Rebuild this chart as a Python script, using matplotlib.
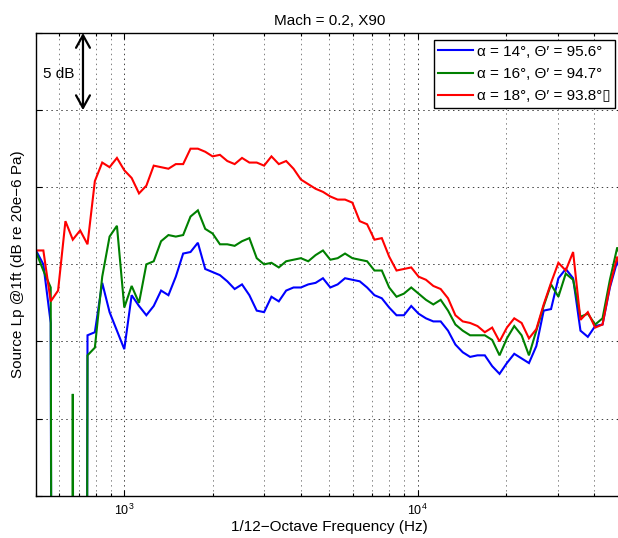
import matplotlib
matplotlib.use("Agg")
import matplotlib.pyplot as plt
from matplotlib.ticker import FixedLocator, LogLocator, NullFormatter

plt.rcParams['font.family'] = ['Liberation Sans', 'DejaVu Sans']
plt.rcParams['mathtext.fontset'] = 'custom'
plt.rcParams['mathtext.rm'] = 'Liberation Sans'
plt.rcParams['mathtext.it'] = 'Liberation Sans:italic'
plt.rcParams['mathtext.bf'] = 'Liberation Sans:bold'

# 1/12-octave band centre frequencies (Hz)
freq_hz = [500.0, 529.7, 561.2, 594.6, 630.0, 667.4, 707.1, 749.2, 793.7, 840.9,
           890.9, 943.9, 1000.0, 1059.5, 1122.5, 1189.2, 1259.9, 1334.8, 1414.2, 1498.3,
           1587.4, 1681.8, 1781.8, 1887.7, 2000.0, 2118.9, 2244.9, 2378.4, 2519.8, 2669.6,
           2828.4, 2996.6, 3174.8, 3363.6, 3563.6, 3775.5, 4000.0, 4237.9, 4489.8, 4756.8,
           5039.7, 5339.3, 5656.9, 5993.2, 6349.6, 6727.2, 7127.2, 7551.0, 8000.0, 8475.7,
           8979.7, 9513.7, 10079.4, 10678.6, 11313.7, 11986.5, 12699.2, 13454.3, 14254.4, 15102.0,
           16000.0, 16951.4, 17959.4, 19027.3, 20158.7, 21357.2, 22627.4, 23972.9, 25398.4, 26908.7,
           28508.8, 30203.9, 32000.0, 33902.9, 35918.8, 38054.6, 40317.4, 42714.4, 45254.8, 47945.8,
           50796.8]

# Source level spectra, dB re 20e-6 Pa at 1 ft
lp_alpha14 = [75.9, 75.0, 71.2, -150, -150, -150, -150, 70.4, 70.6, 73.8,
              71.9, 70.7, 69.5, 73.0, 72.3, 71.7, 72.3, 73.3, 73.0, 74.2,
              75.7, 75.8, 76.4, 74.7, 74.5, 74.3, 73.9, 73.4, 73.7, 73.0,
              72.0, 71.9, 72.9, 72.6, 73.3, 73.5, 73.5, 73.7, 73.8, 74.1,
              73.5, 73.7, 74.1, 74.0, 73.9, 73.5, 73.0, 72.8, 72.2, 71.7,
              71.7, 72.3, 71.8, 71.5, 71.3, 71.3, 70.7, 69.8, 69.3, 69.0,
              69.1, 69.1, 68.4, 67.9, 68.6, 69.2, 68.9, 68.6, 69.7, 72.0,
              72.1, 74.1, 74.7, 74.1, 70.7, 70.3, 71.0, 71.1, 73.5, 75.2,
              73.8]
lp_alpha16 = [75.8, 74.6, 73.5, -150, -150, 66.6, -150, 69.1, 69.6, 74.2,
              76.8, 77.5, 72.2, 73.6, 72.5, 75.0, 75.2, 76.5, 76.9, 76.8,
              76.9, 78.1, 78.5, 77.3, 77.0, 76.3, 76.3, 76.2, 76.5, 76.7,
              75.4, 75.0, 75.1, 74.8, 75.2, 75.3, 75.4, 75.2, 75.6, 75.9,
              75.3, 75.4, 75.7, 75.4, 75.3, 75.2, 74.6, 74.6, 73.5, 72.9,
              73.1, 73.5, 73.1, 72.7, 72.4, 72.7, 72.0, 71.1, 70.7, 70.4,
              70.4, 70.4, 70.1, 69.1, 70.2, 71.0, 70.4, 69.1, 70.7, 72.3,
              73.7, 72.9, 74.4, 74.0, 71.6, 71.8, 71.1, 71.5, 74.0, 76.1,
              74.8]
lp_alpha18 = [75.9, 75.9, 72.6, 73.3, 77.8, 76.6, 77.2, 76.3, 80.4, 81.6,
              81.3, 81.9, 81.1, 80.6, 79.6, 80.1, 81.4, 81.3, 81.2, 81.5,
              81.5, 82.5, 82.5, 82.3, 82.0, 82.1, 81.7, 81.5, 81.9, 81.6,
              81.6, 81.4, 82.0, 81.5, 81.7, 81.2, 80.5, 80.2, 79.9, 79.7,
              79.4, 79.2, 79.2, 79.0, 77.8, 77.6, 76.6, 76.7, 75.5, 74.6,
              74.7, 74.8, 74.2, 74.0, 73.6, 73.4, 72.8, 71.7, 71.3, 71.2,
              71.0, 70.6, 70.9, 70.0, 70.9, 71.5, 71.2, 70.2, 70.8, 72.4,
              73.8, 75.1, 74.6, 75.8, 71.4, 71.9, 70.9, 71.1, 73.6, 75.5,
              73.7]

series_labels = ["α = 14°, Θ′ = 95.6°",
                 "α = 16°, Θ′ = 94.7°",
                 "α = 18°, Θ′ = 93.8°\u25AF"]
series_colors = ["#0000ff", "#008000", "#ff0000"]

W, H = 618, 538
fig = plt.figure(figsize=(W / 100, H / 100), dpi=100)
ax = fig.add_axes([36 / W, 42.3 / H, 586.6 / W, 462.7 / H])

for lp, lab, col in zip([lp_alpha14, lp_alpha16, lp_alpha18], series_labels, series_colors):
    ax.plot(freq_hz, lp, color=col, lw=1.5, label=lab, solid_joinstyle='miter')

ax.set_xscale('log')
ax.set_xlim(500, 50000)
ax.set_ylim(60, 90)
ax.set_yticks([60, 65, 70, 75, 80, 85, 90])
ax.set_yticklabels([])
ax.xaxis.set_major_locator(FixedLocator([1e3, 1e4]))
ax.xaxis.set_minor_locator(LogLocator(base=10, subs=[2, 3, 4, 5, 6, 7, 8, 9], numticks=20))
ax.xaxis.set_minor_formatter(NullFormatter())

dots = (0, (1.5, 3.6))
ax.grid(True, which='major', axis='both', color='#404040', lw=0.7, ls=dots)
ax.grid(True, which='minor', axis='x', color='#808080', lw=0.7, ls=dots)
ax.set_axisbelow(True)

ax.tick_params(which='both', direction='in', top=True, right=True, width=0.8)
ax.tick_params(which='major', length=4.5, labelsize=9, pad=5)
ax.tick_params(which='minor', length=2.5)
for sp in ax.spines.values():
    sp.set_linewidth(1.0)

ax.set_title('Mach = 0.2, X90', fontsize=11, pad=5.5)
ax.set_xlabel('1/12\u2212Octave Frequency (Hz)', fontsize=11)
ax.set_ylabel('Source Lp @1ft (dB re 20e\u22126 Pa)', fontsize=11)
ax.xaxis.set_label_coords(0.5, -0.0535)
ax.yaxis.set_label_coords(-0.0195, 0.5)

# 5 dB scale bar
ax.annotate('', xy=(723, 90), xytext=(723, 85),
            arrowprops=dict(arrowstyle='<->, head_length=0.45, head_width=0.25',
                            color='k', lw=1.6, shrinkA=0, shrinkB=0, mutation_scale=20))
ax.text(674, 87.34, '5 dB', ha='right', va='center', fontsize=11)

leg = ax.legend(loc='upper right', bbox_to_anchor=(615.3 / W, 1 - 40 / H),
                bbox_transform=fig.transFigure, fancybox=False, edgecolor='k',
                framealpha=1, borderaxespad=0, handlelength=2.3, handletextpad=0.25,
                borderpad=0.3, labelspacing=0.55, fontsize=11)
leg.get_frame().set_linewidth(1.0)

fig.savefig('out.png', dpi=100)
